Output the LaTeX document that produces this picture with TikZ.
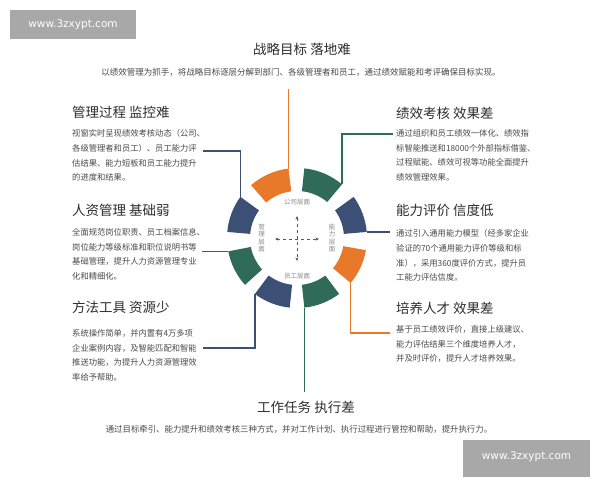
\documentclass[tikz,border=0pt]{standalone}
\usepackage{fontspec}
\setmainfont{Noto Sans CJK SC}
\newfontfamily\wmfont{DejaVu Sans}
\usetikzlibrary{arrows.meta,calc}
\definecolor{navyc}{HTML}{3C4F75}
\definecolor{greenc}{HTML}{2F6B58}
\definecolor{orangec}{HTML}{E8792B}
\definecolor{titlec}{HTML}{2E2E2E}
\definecolor{bodyc}{HTML}{4A4A4A}
\definecolor{innerc}{HTML}{8A8A8A}
\definecolor{wmgray}{HTML}{A8A8A8}
\begin{document}
\begin{tikzpicture}[x=1pt,y=1pt,
  ttl/.style={anchor=base west,inner sep=0pt,font=\fontsize{13.5}{16}\selectfont,text=titlec},
  ttlc/.style={anchor=base,inner sep=0pt,font=\fontsize{13.5}{16}\selectfont,text=titlec},
  body/.style={anchor=north west,inner sep=0pt,align=left,font=\fontsize{8.3}{14.7}\selectfont,text=bodyc},
  bodyc/.style={anchor=base,inner sep=0pt,font=\fontsize{8.4}{10}\selectfont,text=bodyc},
  conn/.style={line width=1.6pt},
  inner/.style={inner sep=0pt,font=\fontsize{6.5}{7.6}\selectfont,text=innerc,align=center},
  wm/.style={inner sep=0pt,font=\wmfont\fontsize{10.5}{12}\selectfont,text=white},
  crossarr/.style={dashed,line width=0.8pt,draw=black!65,{Stealth[length=3.5pt,width=3pt]}-{Stealth[length=3.5pt,width=3pt]}}]
\useasboundingbox (0,0) rectangle (600,-480);
\fill[white] (0,0) rectangle (600,-480);

% watermarks
\fill[wmgray] (10,-10) rectangle (136,-39);
\node[wm] (wm1) at (73,-24.5) {www.3zxypt.com};
\fill[wmgray] (463,-440) rectangle (590,-477);
\node[wm] (wm2) at (526.5,-457) {www.3zxypt.com};

% top
\node[ttlc] (tt) at (302,-54) {战略目标 落地难};
\node[bodyc,font=\fontsize{8.5}{10}\selectfont] (ts) at (301,-75.2) {以绩效管理为抓手，将战略目标逐层分解到部门、各级管理者和员工，通过绩效赋能和考评确保目标实现。};

% bottom
\node[ttlc] (bt) at (306,-412) {工作任务 执行差};
\node[bodyc] (bs) at (299,-432.2) {通过目标牵引、能力提升和绩效考核三种方式，并对工作计划、执行过程进行管控和帮助，提升执行力。};

% left blocks
\node[ttl] (l1t) at (72,-117) {管理过程 监控难};
\node[body] (l1b) at (72,-129.3) {视窗实时呈现绩效考核动态（公司、\\各级管理者和员工）、员工能力评\\估结果、能力短板和员工能力提升\\的进度和结果。};
\node[ttl] (l2t) at (72,-215) {人资管理 基础弱};
\node[body] (l2b) at (72,-228.3) {全面规范岗位职责、员工档案信息、\\岗位能力等级标准和职位说明书等\\基础管理，提升人力资源管理专业\\化和精细化。};
\node[ttl] (l3t) at (72,-312) {方法工具 资源少};
\node[body] (l3b) at (72,-329.3) {系统操作简单，并内置有4万多项\\企业案例内容，及智能匹配和智能\\推送功能，为提升人力资源管理效\\率给予帮助。};

% right blocks
\node[ttl] (r1t) at (396,-118) {绩效考核 效果差};
\node[body] (r1b) at (396,-129.3) {通过组织和员工绩效一体化、绩效指\\标智能推送和18000个外部指标借鉴、\\过程赋能、绩效可视等功能全面提升\\绩效管理效果。};
\node[ttl] (r2t) at (396,-215) {能力评价 信度低};
\node[body] (r2b) at (396,-229.3) {通过引入通用能力模型（经多家企业\\验证的70个通用能力评价等级和标\\准），采用360度评价方式，提升员\\工能力评估信度。};
\node[ttl] (r3t) at (396,-313) {培养人才 效果差};
\node[body] (r3b) at (396,-325.3) {基于员工绩效评价，直接上级建议、\\能力评估结果三个维度培养人才，\\并及时评价，提升人才培养效果。};

% ring
\coordinate (C) at (297,-238);
\foreach \a/\b/\c in {5/36/navyc, 50/84/greenc, 97/131/orangec, 144/175/navyc, 191/222/greenc, 233/264/navyc, 276/307/greenc, 320/350/orangec}{
  \fill[\c] ($(C)+(\a:70)$) arc[start angle=\a,end angle=\b,radius=70] -- ($(C)+(\b:47)$) arc[start angle=\b,end angle=\a,radius=47] -- cycle;
}

% corners
\coordinate (oT) at ($(C)+(97:70)$);
\coordinate (gT) at ($(C)+(50:70)$);
\coordinate (nR) at ($(C)+(5:70)$);
\coordinate (oR) at ($(C)+(320:70)$);
\coordinate (gB) at ($(C)+(276:70)$);
\coordinate (nB) at ($(C)+(233:70)$);
\coordinate (gL) at ($(C)+(191:70)$);
\coordinate (nL) at ($(C)+(144:70)$);

% connector ends
\coordinate (oTe) at (0,-89);
\coordinate (gTe) at (393,-134);
\coordinate (nRe) at (390,0);
\coordinate (oRe) at (390,-333);
\coordinate (gBe) at (0,-392);
\coordinate (nBe) at (203,-348);
\coordinate (gLe) at (202,0);
\coordinate (nLe) at (203,-151);

\draw[conn,orangec] (oT) -- (oT |- oTe);
\draw[conn,greenc] (gT) |- (gTe);
\draw[conn,navyc] (nR) -- (nR -| nRe);
\draw[conn,orangec] (oR) |- (oRe);
\draw[conn,greenc] (gB) -- (gB |- gBe);
\draw[conn,navyc] (nB) |- (nBe);
\draw[conn,greenc] (gL) -- (gL -| gLe);
\draw[conn,navyc] (nL) |- (nLe);

% inner labels
\node[inner] (in1) at (297,-202) {公司层面};
\node[inner] (in2) at (297,-276) {员工层面};
\node[inner] (in3) at (261.5,-238) {管\\理\\层\\面};
\node[inner] (in4) at (332,-238) {能\\力\\层\\面};

% cross
\coordinate (xl) at (275,-239);
\coordinate (xr) at (319,-239);
\coordinate (xt) at (297,-216);
\coordinate (xb) at (297,-261);
\draw[crossarr] (xl) -- (xr);
\draw[crossarr] (xt) -- (xb);
\end{tikzpicture}
\end{document}
